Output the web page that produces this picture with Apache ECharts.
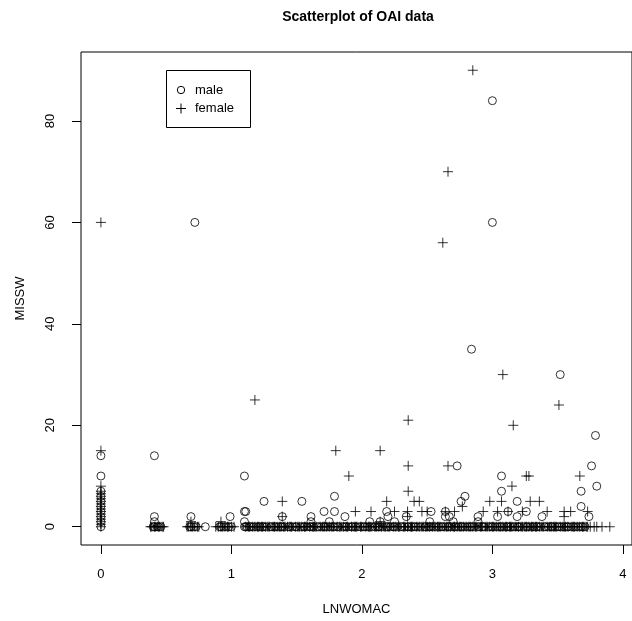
<!DOCTYPE html>
<html>
<head>
<meta charset="utf-8">
<title>Scatterplot of OAI data</title>
<script src="https://cdn.jsdelivr.net/npm/echarts@6/dist/echarts.min.js"></script>
<style>
  html, body { margin: 0; padding: 0; background: #fff; }
  #chart { width: 632px; height: 621px; }
</style>
</head>
<body>
<div id="chart"></div>
<script>
// ticks
const xTicks = [0, 1, 2, 3, 4]
const yTicks = [0, 20, 40, 60, 80]

// LNWOMAC of the subjects with MISSW = 0 (the dense band at the bottom)
const maleZeroX = [0, 0.40, 0.41, 0.43, 0.44, 0.46, 0.68, 0.69, 0.71, 0.73, 0.80, 0.91, 0.92, 0.94, 0.96, 0.98, 1.00,
  1.10, 1.11, 1.12, 1.14, 1.15, 1.17, 1.19, 1.21, 1.22, 1.24, 1.25, 1.27, 1.30, 1.31, 1.33, 1.34, 1.36, 1.38,
  1.39, 1.41, 1.44, 1.45, 1.47, 1.49, 1.50, 1.53, 1.55, 1.56, 1.58, 1.60, 1.61, 1.63, 1.66, 1.67, 1.69, 1.71,
  1.72, 1.74, 1.76, 1.78, 1.79, 1.81, 1.82, 1.85, 1.87, 1.88, 1.90, 1.92, 1.93, 1.95, 1.97, 1.99, 2.01, 2.02,
  2.04, 2.06, 2.08, 2.10, 2.12, 2.13, 2.14, 2.16, 2.19, 2.20, 2.22, 2.24, 2.25, 2.27, 2.30, 2.31, 2.33, 2.35,
  2.36, 2.38, 2.40, 2.41, 2.43, 2.45, 2.48, 2.49, 2.51, 2.52, 2.53, 2.55, 2.57, 2.59, 2.61, 2.62, 2.64, 2.66,
  2.67, 2.69, 2.71, 2.72, 2.74, 2.76, 2.77, 2.79, 2.81, 2.83, 2.84, 2.86, 2.89, 2.90, 2.92, 2.93, 2.94, 2.97,
  2.99, 3.00, 3.02, 3.04, 3.06, 3.07, 3.09, 3.11, 3.12, 3.14, 3.16, 3.17, 3.19, 3.20, 3.21, 3.24, 3.26, 3.27,
  3.29, 3.31, 3.32, 3.34, 3.35, 3.37, 3.40, 3.41, 3.43, 3.45, 3.46, 3.48, 3.50, 3.51, 3.53, 3.55, 3.57, 3.58,
  3.60, 3.62, 3.64, 3.66, 3.68, 3.69, 3.71]
const femaleZeroX = [0, 0.38, 0.39, 0.41, 0.42, 0.44, 0.45, 0.47, 0.48, 0.66, 0.67, 0.69, 0.70, 0.72, 0.74, 0.75,
  0.88, 0.90, 0.92, 0.93, 0.95, 0.97, 0.98, 1.00, 1.02,
  1.11, 1.13, 1.14, 1.16, 1.18, 1.20, 1.21, 1.23, 1.24, 1.26, 1.28, 1.29, 1.32, 1.33, 1.35, 1.37, 1.38, 1.40,
  1.41, 1.43, 1.45, 1.46, 1.49, 1.51, 1.52, 1.54, 1.56, 1.57, 1.60, 1.62, 1.63, 1.64, 1.65, 1.68, 1.70, 1.71,
  1.73, 1.75, 1.77, 1.78, 1.81, 1.83, 1.84, 1.86, 1.88, 1.89, 1.92, 1.94, 1.95, 1.96, 1.99, 2.00, 2.03, 2.05,
  2.06, 2.07, 2.10, 2.11, 2.13, 2.15, 2.17, 2.18, 2.20, 2.21, 2.24, 2.26, 2.28, 2.29, 2.32, 2.33, 2.35, 2.37,
  2.38, 2.39, 2.42, 2.44, 2.46, 2.47, 2.49, 2.50, 2.52, 2.54, 2.56, 2.58, 2.59, 2.60, 2.63, 2.65, 2.66, 2.68,
  2.70, 2.71, 2.73, 2.75, 2.76, 2.78, 2.80, 2.82, 2.83, 2.85, 2.87, 2.88, 2.91, 2.92, 2.95, 2.96, 2.98, 3.00,
  3.01, 3.03, 3.05, 3.06, 3.08, 3.10, 3.11, 3.13, 3.14, 3.15, 3.18, 3.20, 3.22, 3.23, 3.25, 3.26, 3.28, 3.30,
  3.31, 3.33, 3.34, 3.36, 3.38, 3.39, 3.42, 3.44, 3.45, 3.47, 3.48, 3.49, 3.52, 3.54, 3.55, 3.56, 3.58, 3.61,
  3.62, 3.63, 3.65, 3.67, 3.69, 3.70, 3.72, 3.73, 3.75, 3.78, 3.80, 3.84, 3.90]

// the rest, [LNWOMAC, MISSW]
const maleOther = [
  [0, 1], [0, 2], [0, 3], [0, 4], [0, 5], [0, 6], [0, 7], [0, 10], [0, 14],
  [0.41, 14], [0.41, 2], [0.41, 1], [0.72, 60], [0.69, 2], [0.99, 2],
  [1.10, 10], [1.10, 3], [1.11, 3], [1.10, 1], [1.25, 5], [1.39, 2], [1.54, 5],
  [1.61, 2], [1.61, 1], [1.71, 3], [1.75, 1], [1.79, 6], [1.79, 3], [1.87, 2],
  [2.06, 1], [2.14, 1], [2.19, 3], [2.20, 2], [2.25, 1], [2.34, 2], [2.52, 1], [2.53, 3],
  [2.64, 3], [2.64, 2], [2.67, 2], [2.70, 1], [2.73, 12], [2.76, 5], [2.79, 6], [2.84, 35],
  [2.89, 2], [2.89, 1], [3.00, 60], [3.00, 84], [3.04, 2], [3.07, 10], [3.07, 7], [3.12, 3],
  [3.19, 5], [3.19, 2], [3.26, 3], [3.38, 2], [3.52, 30], [3.68, 7], [3.68, 4], [3.74, 2],
  [3.76, 12], [3.79, 18], [3.80, 8]
]
const femaleOther = [
  [0, 0.5], [0, 1], [0, 1.5], [0, 2], [0, 2.5], [0, 3], [0, 3.5], [0, 4], [0, 4.5], [0, 5],
  [0, 5.5], [0, 6], [0, 6.5], [0, 7], [0, 8], [0, 15], [0, 60],
  [0.69, 1], [0.92, 1], [1.18, 25], [1.39, 5], [1.39, 2], [1.80, 15], [1.90, 10],
  [1.95, 3], [2.07, 3], [2.14, 15], [2.14, 1], [2.19, 5], [2.25, 3], [2.35, 3], [2.35, 2],
  [2.355, 21], [2.355, 12], [2.355, 7], [2.40, 5], [2.44, 5], [2.46, 3], [2.50, 3],
  [2.62, 56], [2.64, 3], [2.66, 70], [2.66, 12], [2.71, 3], [2.77, 4], [2.85, 90],
  [2.93, 3], [2.98, 5], [3.04, 3], [3.07, 5], [3.08, 30], [3.12, 3], [3.15, 8], [3.16, 20],
  [3.23, 3], [3.26, 10], [3.28, 10], [3.29, 5], [3.36, 5], [3.42, 3], [3.51, 24], [3.55, 3],
  [3.55, 2], [3.60, 3], [3.67, 10], [3.73, 3]
]

const font = "'Liberation Sans', Arial, sans-serif"
const plus = 'path://M0,5L10,5M5,0L5,10'

const chart = echarts.init(document.getElementById('chart'), null, { renderer: 'canvas' })

chart.setOption({
  animation: false,
  backgroundColor: '#fff',
  title: {
    text: 'Scatterplot of OAI data',
    left: 358,
    top: 10,
    padding: 0,
    textAlign: 'center',
    textStyle: { fontFamily: font, fontSize: 14, fontWeight: 'bold', color: '#000' }
  },
  grid: {
    left: 81,
    top: 52,
    width: 554,
    height: 495,
    show: true,
    borderColor: '#000',
    borderWidth: 1,
    backgroundColor: 'transparent'
  },
  xAxis: {
    type: 'value',
    min: -0.1526,
    max: 4.07,
    name: 'LNWOMAC',
    nameLocation: 'middle',
    nameGap: 58,
    nameTextStyle: { fontFamily: font, fontSize: 13, color: '#000' },
    axisLine: { show: false, onZero: false },
    axisTick: { show: true, customValues: xTicks, length: 9, lineStyle: { color: '#000' } },
    axisLabel: { customValues: xTicks, margin: 23, fontFamily: font, fontSize: 13, color: '#000' },
    splitLine: { show: false }
  },
  yAxis: {
    type: 'value',
    min: -3.6,
    max: 93.6,
    name: 'MISSW',
    nameLocation: 'middle',
    nameGap: 54,
    nameRotate: 90,
    nameTextStyle: { fontFamily: font, fontSize: 13, color: '#000' },
    axisLine: { show: false, onZero: false },
    axisTick: { show: true, customValues: yTicks, length: 9, lineStyle: { color: '#000' } },
    axisLabel: { customValues: yTicks, rotate: 90, margin: 24, fontFamily: font, fontSize: 13, color: '#000' },
    splitLine: { show: false }
  },
  series: [
    {
      name: 'male',
      type: 'scatter',
      symbol: 'circle',
      symbolSize: 8,
      itemStyle: { color: 'rgba(0,0,0,0)', borderColor: '#000', borderWidth: 1 },
      emphasis: { disabled: true },
      data: maleZeroX.map(x => [x, 0]).concat(maleOther)
    },
    {
      name: 'female',
      type: 'scatter',
      symbol: plus,
      symbolSize: 10,
      itemStyle: { color: 'rgba(0,0,0,0)', borderColor: '#000', borderWidth: 1 },
      emphasis: { disabled: true },
      data: femaleZeroX.map(x => [x, 0]).concat(femaleOther)
    }
  ],
  graphic: [
    {
      type: 'group',
      left: 166,
      top: 70,
      children: [
        { type: 'rect', shape: { x: 0.5, y: 0.5, width: 84, height: 57 },
          style: { fill: '#fff', stroke: '#000', lineWidth: 1 } },
        { type: 'circle', shape: { cx: 15, cy: 20, r: 3.7 },
          style: { fill: 'none', stroke: '#000', lineWidth: 1 } },
        { type: 'line', shape: { x1: 10, y1: 38.5, x2: 20, y2: 38.5 }, style: { stroke: '#000', lineWidth: 1 } },
        { type: 'line', shape: { x1: 15, y1: 33.5, x2: 15, y2: 43.5 }, style: { stroke: '#000', lineWidth: 1 } },
        { type: 'text', x: 29, y: 20, style: { text: 'male', font: '13px ' + font, fill: '#000', verticalAlign: 'middle' } },
        { type: 'text', x: 29, y: 38.5, style: { text: 'female', font: '13px ' + font, fill: '#000', verticalAlign: 'middle' } }
      ]
    }
  ]
})
</script>
</body>
</html>
